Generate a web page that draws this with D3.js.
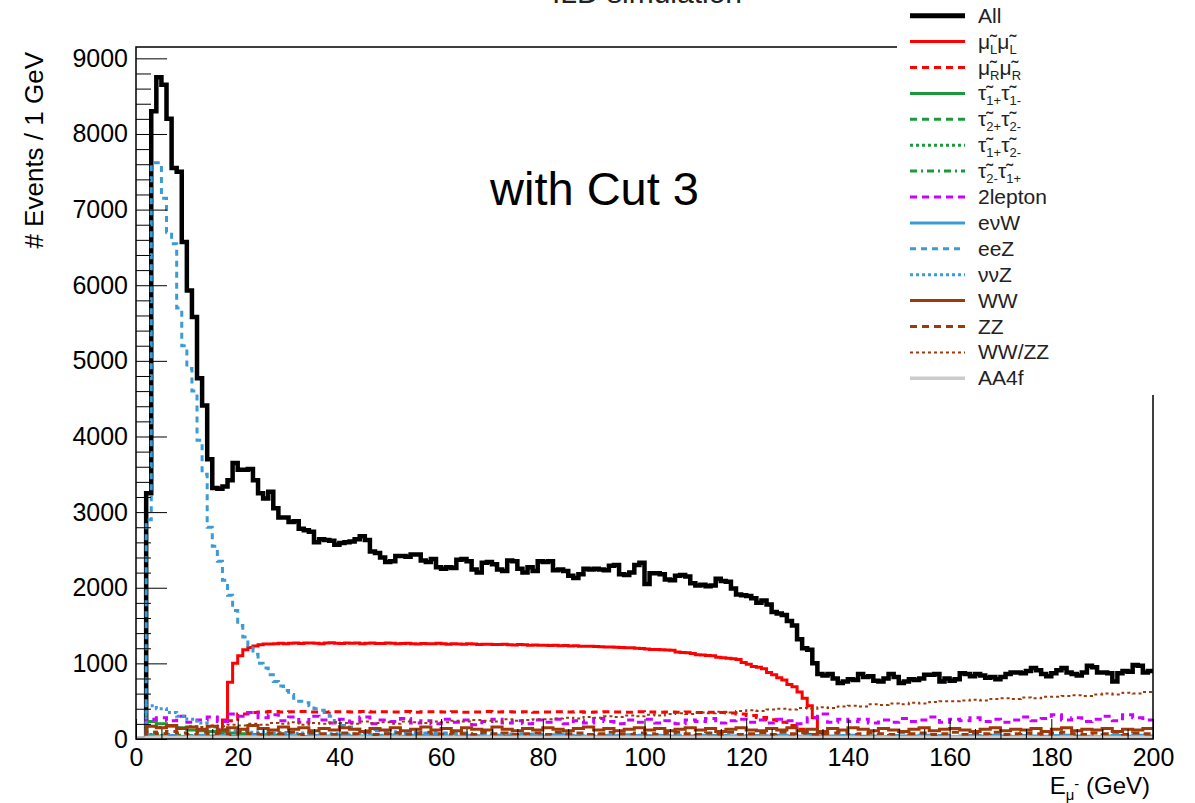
<!DOCTYPE html>
<html>
<head>
<meta charset="utf-8">
<script src="https://cdn.jsdelivr.net/npm/d3@7"></script>
<style>
  body { margin: 0; background: #fff; }
  text { font-family: "Liberation Sans", Arial, sans-serif; }
</style>
</head>
<body>
<div id="chart"></div>
<script>
// Tick labels
const xTicks = [0, 20, 40, 60, 80, 100, 120, 140, 160, 180, 200];
const yTicks = [0, 1000, 2000, 3000, 4000, 5000, 6000, 7000, 8000, 9000];

// Histograms, events per bin (1 GeV bins)
const allEvents = [
  0, 0, 3250, 8300, 8750, 8650, 8200, 7550, 7500, 6570,
  5930, 5580, 4770, 4410, 3700, 3320, 3310, 3340, 3420, 3650,
  3560, 3560, 3570, 3420, 3250, 3180, 3270, 3050, 2930, 2930,
  2870, 2880, 2780, 2760, 2740, 2600, 2640, 2630, 2620, 2570,
  2590, 2600, 2610, 2640, 2680, 2630, 2480, 2460, 2400, 2340,
  2350, 2420, 2420, 2410, 2440, 2440, 2360, 2340, 2380, 2270,
  2250, 2270, 2260, 2370, 2380, 2350, 2240, 2200, 2330, 2340,
  2310, 2240, 2220, 2360, 2350, 2250, 2200, 2270, 2220, 2350,
  2340, 2350, 2230, 2240, 2220, 2160, 2130, 2180, 2250, 2240,
  2250, 2240, 2230, 2290, 2300, 2180, 2170, 2200, 2300, 2330,
  2050, 2190, 2190, 2180, 2110, 2100, 2160, 2170, 2150, 2060,
  2030, 2040, 2020, 2030, 2120, 2090, 2080, 1990, 1910, 1900,
  1890, 1860, 1800, 1830, 1780, 1680, 1660, 1640, 1560, 1500,
  1320, 1200, 1180, 1000, 860, 840, 860, 800, 740, 760,
  790, 780, 860, 820, 830, 770, 760, 800, 860, 820,
  740, 760, 790, 780, 800, 850, 850, 860, 760, 800,
  770, 790, 870, 860, 830, 860, 840, 810, 820, 790,
  820, 860, 880, 880, 870, 900, 940, 910, 860, 830,
  870, 910, 940, 880, 860, 840, 880, 970, 950, 880,
  880, 870, 760, 870, 900, 890, 980, 970, 880, 900
];

const muLmuL = [
  0, 0, 0, 0, 0, 0, 0, 0, 0, 0,
  0, 0, 0, 0, 0, 0, 0, 250, 750, 1000,
  1100, 1180, 1210, 1230, 1245, 1255, 1255, 1260, 1265, 1260,
  1265, 1270, 1262, 1268, 1270, 1265, 1260, 1268, 1272, 1266,
  1262, 1270, 1265, 1268, 1260, 1266, 1270, 1264, 1262, 1268,
  1265, 1258, 1262, 1266, 1260, 1255, 1262, 1258, 1260, 1265,
  1258, 1254, 1260, 1256, 1252, 1258, 1255, 1250, 1254, 1252,
  1250, 1248, 1252, 1246, 1244, 1250, 1245, 1240, 1244, 1238,
  1240, 1236, 1238, 1232, 1235, 1230, 1232, 1228, 1225, 1228,
  1222, 1220, 1218, 1215, 1212, 1210, 1208, 1205, 1200, 1198,
  1190, 1185, 1182, 1180, 1178, 1172, 1150, 1145, 1140, 1130,
  1115, 1110, 1105, 1100, 1080, 1075, 1068, 1060, 1050, 1010,
  990, 960, 950, 930, 880, 850, 810, 780, 720, 690,
  620, 540, 440, 280, 80, 0
];

const eeZ = [
  0, 0, 2900, 7620, 7620, 7150, 6700, 6550, 5700, 5200,
  4900, 4600, 3950, 3500, 2800, 2550, 2350, 2100, 1900, 1700,
  1500, 1350, 1240, 1120, 1000, 940, 850, 760, 700, 640,
  590, 540, 500, 480, 440, 400, 380, 360, 300, 220,
  180, 150, 160, 130, 120, 110, 100, 110, 90, 100,
  95, 85, 90, 80, 85, 90, 75, 80, 85, 70,
  80, 70, 75, 65, 80, 70, 60, 75, 65, 70,
  60, 70, 55, 65, 60, 70, 55, 60, 65, 50,
  60, 55, 50, 65, 55, 50, 60, 45, 55, 50,
  45, 55, 50, 40, 50, 45, 55, 40, 45, 50,
  45, 40, 50, 35, 45, 40, 50, 45, 35, 40,
  45, 35, 40, 50, 40, 35, 45, 40, 35, 45,
  40, 35, 45, 30, 40, 45, 35, 40, 30, 40,
  35, 45, 40, 30, 35, 40, 30, 35, 40, 35,
  30, 40, 35, 30, 35, 25, 35, 30, 40, 30,
  35, 30, 25, 35, 30, 40, 30, 25, 35, 30,
  30, 25, 35, 30, 25, 30, 35, 25, 30, 25,
  30, 35, 25, 30, 25, 30, 20, 30, 25, 30,
  25, 30, 20, 25, 30, 25, 20, 30, 25, 20,
  25, 30, 20, 25, 20, 30, 25, 20, 25, 20
];

// Histograms with 2 GeV bins
const muRmuR = [
  0, 0, 0, 0, 0, 0, 0, 0, 0, 240,
  330, 352, 358, 362, 356, 360, 364, 358, 355, 361,
  359, 357, 363, 356, 360, 358, 362, 355, 359, 361,
  357, 360, 354, 358, 362, 356, 359, 357, 361, 355,
  358, 360, 356, 359, 354, 358, 361, 357, 355, 359,
  356, 353, 357, 354, 358, 352, 355, 350, 345, 330,
  310, 285, 255, 220, 180, 130, 60, 0
];

const tau1tau1 = [0, 230, 200, 170, 150, 120, 110, 100, 90, 80, 70, 60, 55, 50, 45, 40, 30, 20, 0, 0];
const tau2tau2 = [0, 90, 70, 60, 50, 45, 40, 35, 30, 25, 20, 20, 15, 15, 10, 10, 5, 5, 0, 0];
const tau1tau2 = [0, 60, 50, 40, 35, 30, 25, 20, 20, 15, 15, 10, 10, 5, 5, 0, 0, 0, 0, 0];
const tau2tau1 = [0, 50, 40, 35, 30, 25, 20, 15, 15, 10, 10, 5, 5, 0, 0, 0, 0, 0, 0, 0];

const twoLepton = [
  0, 260, 280, 240, 300, 220, 250, 290, 230, 330,
  300, 350, 280, 320, 240, 290, 220, 300, 250, 210,
  260, 220, 290, 200, 250, 230, 270, 210, 240, 200,
  260, 220, 250, 190, 230, 260, 210, 240, 200, 250,
  220, 260, 200, 240, 210, 270, 230, 200, 250, 220,
  260, 210, 240, 200, 250, 230, 270, 210, 240, 260,
  220, 250, 210, 260, 240, 200, 280, 330, 220, 260,
  230, 260, 210, 250, 220, 270, 230, 250, 290, 220,
  260, 240, 280, 230, 260, 220, 250, 290, 240, 270,
  320, 250, 280, 230, 260, 300, 240, 320, 280, 250
];

const evW = [
  0, 40, 35, 45, 30, 40, 50, 35, 45, 40,
  30, 45, 40, 35, 50, 40, 30, 45, 35, 40,
  50, 35, 40, 45, 30, 40, 35, 50, 45, 35,
  40, 30, 45, 40, 35, 50, 40, 45, 30, 40,
  35, 45, 50, 40, 35, 30, 45, 40, 50, 35,
  40, 45, 35, 30, 40, 50, 45, 35, 40, 30,
  45, 40, 35, 50, 40, 30, 45, 35, 40, 45,
  50, 35, 40, 30, 45, 40, 35, 50, 40, 45,
  30, 40, 45, 35, 50, 40, 30, 45, 40, 35,
  45, 50, 40, 35, 30, 40, 45, 35, 50, 40
];

const vvZ = [
  0, 440, 400, 350, 300, 260, 210, 160, 130, 110,
  100, 90, 95, 80, 85, 75, 80, 70, 65, 70,
  60, 65, 55, 60, 50, 55, 60, 50, 45, 55,
  50, 45, 50, 40, 45, 50, 40, 45, 40, 35,
  45, 40, 35, 40, 45, 35, 40, 35, 30, 40,
  35, 40, 30, 35, 30, 40, 35, 30, 35, 30,
  40, 30, 35, 30, 25, 35, 30, 35, 25, 30,
  35, 30, 25, 30, 35, 25, 30, 25, 30, 35,
  25, 30, 25, 30, 20, 30, 25, 30, 25, 20,
  30, 25, 20, 25, 30, 20, 25, 20, 25, 20
];

const ww = [
  0, 170, 150, 180, 140, 160, 130, 170, 120, 150,
  130, 180, 140, 120, 160, 130, 150, 110, 140, 120,
  150, 130, 100, 140, 120, 150, 110, 130, 160, 120,
  140, 110, 150, 130, 120, 160, 130, 110, 140, 120,
  150, 130, 110, 140, 160, 120, 140, 110, 130, 150,
  120, 140, 110, 130, 150, 120, 140, 100, 130, 150,
  120, 110, 140, 120, 150, 110, 130, 100, 140, 120,
  150, 130, 110, 140, 120, 100, 130, 150, 110, 130,
  140, 120, 100, 130, 150, 110, 130, 120, 140, 100,
  130, 150, 110, 130, 120, 140, 100, 130, 120, 140
];

const zz = [
  0, 90, 70, 100, 80, 60, 90, 70, 80, 60,
  90, 70, 60, 80, 70, 90, 60, 80, 70, 60,
  80, 70, 90, 60, 70, 80, 60, 70, 90, 70,
  60, 80, 70, 60, 90, 70, 80, 60, 70, 80,
  60, 90, 70, 80, 60, 70, 90, 70, 60, 80,
  70, 60, 80, 90, 70, 60, 80, 70, 90, 60,
  70, 80, 60, 90, 70, 80, 60, 70, 80, 90,
  60, 70, 80, 70, 60, 90, 70, 80, 60, 70,
  90, 60, 80, 70, 90, 60, 70, 80, 70, 60,
  80, 90, 70, 60, 80, 70, 90, 60, 80, 70
];

const wwzz = [
  0, 170, 160, 180, 150, 170, 160, 180, 170, 190,
  180, 200, 190, 210, 200, 220, 190, 210, 200, 220,
  210, 200, 230, 210, 220, 200, 230, 220, 210, 230,
  220, 240, 230, 250, 240, 230, 260, 240, 250, 260,
  260, 270, 280, 270, 290, 280, 300, 290, 310, 300,
  320, 310, 330, 340, 330, 350, 340, 360, 350, 370,
  380, 370, 390, 400, 390, 410, 400, 420, 410, 430,
  440, 430, 460, 450, 470, 460, 480, 470, 490, 500,
  500, 510, 520, 510, 530, 540, 530, 550, 540, 560,
  560, 570, 580, 570, 590, 600, 590, 610, 600, 620
];

const aa4f = [
  0, 20, 22, 18, 20, 24, 19, 21, 23, 18,
  20, 22, 19, 21, 20, 23, 18, 20, 22, 19,
  21, 20, 23, 18, 20, 22, 19, 21, 20, 18,
  22, 20, 19, 21, 23, 20, 18, 22, 20, 19,
  21, 23, 20, 18, 22, 19, 20, 21, 23, 20,
  18, 22, 19, 20, 21, 23, 20, 18, 22, 20,
  19, 21, 20, 23, 18, 22, 20, 19, 21, 20,
  23, 18, 20, 22, 19, 21, 20, 23, 18, 20,
  22, 19, 21, 20, 23, 18, 20, 22, 19, 21,
  20, 23, 18, 20, 22, 19, 21, 20, 23, 18
];

const legendLabels = [
  "All", "μ̃_{L}μ̃_{L}", "μ̃_{R}μ̃_{R}", "τ̃_{1+}τ̃_{1-}", "τ̃_{2+}τ̃_{2-}",
  "τ̃_{1+}τ̃_{2-}", "τ̃_{2-}τ̃_{1+}", "2lepton", "eνW", "eeZ", "ννZ",
  "WW", "ZZ", "WW/ZZ", "AA4f"
];

// Series (in legend order), bin width in GeV
const series = [
  { values: allEvents, bin: 1 },
  { values: muLmuL, bin: 1 },
  { values: muRmuR, bin: 2 },
  { values: tau1tau1, bin: 2 },
  { values: tau2tau2, bin: 2 },
  { values: tau1tau2, bin: 2 },
  { values: tau2tau1, bin: 2 },
  { values: twoLepton, bin: 2 },
  { values: evW, bin: 2 },
  { values: eeZ, bin: 1 },
  { values: vvZ, bin: 2 },
  { values: ww, bin: 2 },
  { values: zz, bin: 2 },
  { values: wwzz, bin: 2 },
  { values: aa4f, bin: 2 }
];

// Line styles
const green = "#1a9a3c", blue = "#3a9bd5", brown = "#9e3a0a";
const styles = [
  { color: "#000", width: 4.5, dash: null },
  { color: "#ff0000", width: 3, dash: null },
  { color: "#ff0000", width: 3, dash: "7,5" },
  { color: green, width: 3, dash: null },
  { color: green, width: 3, dash: "7,5" },
  { color: green, width: 3, dash: "3,3" },
  { color: green, width: 3, dash: "7,4,2,4" },
  { color: "#cc00ff", width: 3, dash: "7,5" },
  { color: blue, width: 3, dash: null },
  { color: blue, width: 3, dash: "6,5" },
  { color: blue, width: 3, dash: "3,3" },
  { color: brown, width: 3, dash: null },
  { color: brown, width: 3, dash: "7,5" },
  { color: brown, width: 2, dash: "3,3" },
  { color: "#cccccc", width: 3.5, dash: null }
];

const W = 1195, H = 803;
const plotLeft = 136, plotRight = 1153, plotTop = 47, plotBottom = 739;

const svg = d3.select('#chart')
  .append('svg')
  .attr('width', W)
  .attr('height', H);

const x = d3.scaleLinear().domain([0, 200]).range([plotLeft, plotRight]);
const y = d3.scaleLinear().domain([0, 9150]).range([plotBottom, plotTop]);

svg.append('clipPath').attr('id', 'plotClip')
  .append('rect')
  .attr('x', plotLeft).attr('y', plotTop - 3)
  .attr('width', plotRight - plotLeft).attr('height', plotBottom - plotTop + 3);

// histogram as steps
const step = d3.line()
  .x(d => x(d[0]))
  .y(d => y(d[1]))
  .curve(d3.curveStepAfter);

const histPoints = (s) => {
  const pts = s.values.map((v, i) => [i * s.bin, v]);
  pts.push([s.values.length * s.bin, s.values[s.values.length - 1]]);
  return pts;
};

const plot = svg.append('g').attr('clip-path', 'url(#plotClip)');
// All first, then the others on top
series.forEach((s, i) => {
  plot.append('path')
    .attr('d', step(histPoints(s)))
    .attr('fill', 'none')
    .attr('stroke', styles[i].color)
    .attr('stroke-width', styles[i].width)
    .attr('stroke-dasharray', styles[i].dash)
    .attr('stroke-linejoin', 'miter')
    .attr('stroke-linecap', 'butt');
});

// Axes
const yMinor = d3.range(0, 9150, 200).filter(v => v % 1000 !== 0);
const xMinor = d3.range(0, 201, 5).filter(v => v % 20 !== 0);

const styleAxis = (g) => {
  g.select('.domain').remove();
  g.selectAll('line').attr('stroke', '#000').attr('stroke-width', 1);
  g.selectAll('text')
    .attr('fill', '#000')
    .style('font-family', '"Liberation Sans", Arial, sans-serif')
    .style('font-size', '25px');
};

svg.append('g')
  .attr('transform', 'translate(' + plotLeft + ',0)')
  .call(d3.axisLeft(y).tickValues(yMinor).tickSize(-15).tickFormat(''))
  .call(styleAxis);

svg.append('g')
  .attr('transform', 'translate(' + plotLeft + ',0)')
  .call(d3.axisLeft(y).tickValues(yTicks).tickSize(-31).tickPadding(8).tickFormat(d3.format('d')))
  .call(styleAxis);

svg.append('g')
  .attr('transform', 'translate(0,' + plotBottom + ')')
  .call(d3.axisBottom(x).tickValues(xMinor).tickSize(-10).tickFormat(''))
  .call(styleAxis);

svg.append('g')
  .attr('transform', 'translate(0,' + plotBottom + ')')
  .call(d3.axisBottom(x).tickValues(xTicks).tickSize(-20).tickPadding(9).tickFormat(d3.format('d')))
  .call(styleAxis);

// Frame
svg.append('rect')
  .attr('x', plotLeft).attr('y', plotTop)
  .attr('width', plotRight - plotLeft).attr('height', plotBottom - plotTop)
  .attr('fill', 'none')
  .attr('stroke', '#000')
  .attr('stroke-width', 1.5);

// text with _{} subscripts and ^{} superscripts
const richText = (sel, label, sub, sup) => {
  const parts = label.split(/(_\{[^}]*\}|\^\{[^}]*\})/).filter(p => p.length);
  let shift = 0;
  parts.forEach(p => {
    let target = 0, txt = p, small = false;
    if (p.startsWith('_{')) { target = sub; txt = p.slice(2, -1); small = true; }
    else if (p.startsWith('^{')) { target = sup; txt = p.slice(2, -1); small = true; }
    sel.append('tspan')
      .attr('dy', target - shift)
      .style('font-size', small ? '0.62em' : null)
      .text(txt);
    shift = target;
  });
};

// Legend
const legend = svg.append('g');
legend.append('rect')
  .attr('x', 897).attr('y', 0)
  .attr('width', W - 897).attr('height', 395)
  .attr('fill', '#fff');

legendLabels.forEach((lab, i) => {
  const ly = 15.7 + i * 25.9;
  legend.append('line')
    .attr('x1', 910).attr('x2', 965)
    .attr('y1', ly).attr('y2', ly)
    .attr('stroke', styles[i].color)
    .attr('stroke-width', i === 0 ? 5 : styles[i].width)
    .attr('stroke-dasharray', styles[i].dash);
  const t = legend.append('text')
    .attr('x', 978).attr('y', ly + 7)
    .attr('fill', '#222')
    .style('font-size', '21px');
  richText(t, lab, 5, -7);
});

// Titles (title is cut by the top edge, as in the original figure)
svg.append('text')
  .attr('x', 647).attr('y', 3)
  .attr('text-anchor', 'middle')
  .style('font-size', '30px')
  .attr('fill', '#222')
  .text('ILD simulation');

svg.append('text')
  .attr('x', 490).attr('y', 205)
  .style('font-size', '47px')
  .attr('fill', '#000')
  .text('with Cut 3');

svg.append('text')
  .attr('transform', 'translate(43,52) rotate(-90)')
  .attr('text-anchor', 'end')
  .style('font-size', '26px')
  .attr('fill', '#000')
  .text('# Events / 1 GeV');

const xt = svg.append('text')
  .attr('x', 1150).attr('y', 794)
  .attr('text-anchor', 'end')
  .style('font-size', '24px')
  .attr('fill', '#000');
richText(xt, 'E_{μ}^{-} (GeV)', 6, -5);
</script>
</body>
</html>
